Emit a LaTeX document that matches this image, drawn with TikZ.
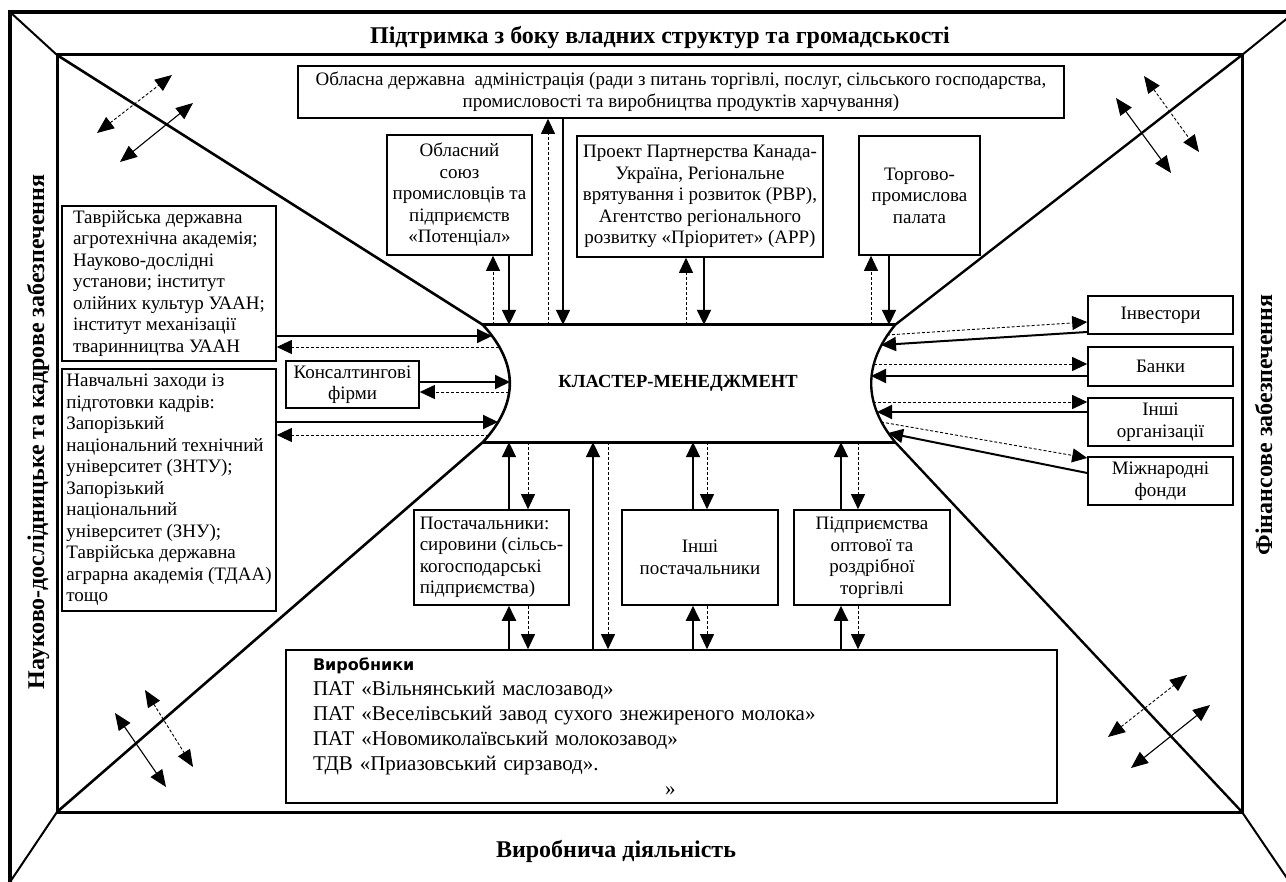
\documentclass[tikz,border=0pt]{standalone}
\usepackage{fontspec}
\setmainfont{Liberation Serif}
\newfontfamily\headfont{DejaVu Sans}
\usepackage{tikz}
\usetikzlibrary{arrows.meta}

\tikzset{
  box/.style={draw, line width=1.6pt, inner sep=3pt, font=\fontsize{19}{21.5}\selectfont},
  sidelabel/.style={font=\fontsize{24}{28}\selectfont\bfseries, inner sep=0pt, anchor=base},
  solidarr/.style={line width=2pt, -{Triangle[length=15pt,width=14pt]}},
  dasharr/.style={line width=0.9pt, dash pattern=on 3pt off 2pt, -{Triangle[length=15pt,width=14pt]}},
  cornarr/.style={line width=1.1pt, {Triangle[length=17pt,width=14pt]}-{Triangle[length=17pt,width=14pt]}},
  corndash/.style={cornarr, line width=0.9pt, dash pattern=on 3pt off 2pt}
}

\begin{document}
\begin{tikzpicture}[x=1pt,y=-1pt]
\useasboundingbox (0,0) rectangle (1286,882);

\coordinate (oTL) at (10,12);
\coordinate (oTR) at (1295,12);
\coordinate (oBL) at (10,882);
\coordinate (oBR) at (1295,890);
\coordinate (iTL) at (57,55);
\coordinate (iTR) at (1242,55);
\coordinate (iBL) at (57,812);
\coordinate (iBR) at (1242,812);

\draw [line width=3.5pt] (oBL) -- (oTL) -- (oTR) -- (oBR);
\draw [line width=3pt] (iTL) rectangle (iBR);
\draw [line width=2pt] (oTL) -- (iTL);
\draw [line width=2pt] (oTR) -- (iTR);
\draw [line width=2pt] (oBL) -- (iBL);
\draw [line width=2pt] (oBR) -- (iBR);

\node [sidelabel] (support) at (660,44) {Підтримка з боку владних структур та громадськості};
\node [sidelabel] (production) at (616,857) {Виробнича діяльність};
\node [sidelabel, rotate=90] (science) at (44,432) {Науково-дослідницьке та кадрове забезпечення};
\node [sidelabel, rotate=90] (finance) at (1272,425) {Фінансове забезпечення};

\node [font=\fontsize{18.5}{22}\selectfont\bfseries, minimum width=412, minimum height=117, inner sep=0pt] (cluster) at (689,383.5) {\hspace*{-22pt}КЛАСТЕР-МЕНЕДЖМЕНТ};
\draw [line width=3pt] (cluster.north west) -- (cluster.north east);
\draw [line width=3pt] (cluster.south west) -- (cluster.south east);
\draw [line width=2.6pt] (iTL) -- (cluster.north west) .. controls +(36,39) and +(36,-39) .. (cluster.south west) -- (iBL);
\draw [line width=2.4pt] (iTR) -- (cluster.north east) .. controls +(-32,39) and +(-32,-39) .. (cluster.south east) -- (iBR);

\node [box, minimum width=766, minimum height=52, align=center] (oda) at (681,92) {Обласна державна~ адміністрація (ради з питань торгівлі, послуг, сільського господарства,\\промисловості та виробництва продуктів харчування)};
\node [box, minimum width=145, minimum height=120, align=center] (soyuz) at (459.5,195) {Обласний\\союз\\промисловців та\\підприємств\\«Потенціал»};
\node [box, minimum width=246, minimum height=121, align=center] (proekt) at (700,196.5) {Проект Партнерства Канада-\\Україна, Регіональне\\врятування і розвиток (РВР),\\Агентство регіонального\\розвитку «Пріоритет» (АРР)};
\node [box, minimum width=121, minimum height=119, align=center] (palata) at (919.5,195.5) {Торгово-\\промислова\\палата};

\node [box, minimum width=214, minimum height=155, align=left] (tavr) at (169,283.5) {Таврійська державна\\агротехнічна академія;\\Науково-дослідні\\установи; інститут\\олійних культур УААН;\\інститут механізації\\тваринництва УААН};
\node [box, minimum width=214, minimum height=242, align=left] (navch) at (169,490) {Навчальні заходи із\\підготовки кадрів:\\Запорізький\\національний технічний\\університет (ЗНТУ);\\Запорізький\\національний\\університет (ЗНУ);\\Таврійська державна\\аграрна академія (ТДАА)\\тощо};
\node [box, minimum width=133, minimum height=47, align=center] (kons) at (352.5,384.5) {Консалтингові\\фірми};

\node [box, minimum width=145, minimum height=38] (invest) at (1160.5,315) {Інвестори};
\node [box, minimum width=145, minimum height=39] (banky) at (1160.5,366.5) {Банки};
\node [box, minimum width=145, minimum height=48, align=center] (inshi) at (1160.5,422) {Інші\\організації};
\node [box, minimum width=145, minimum height=48, align=center] (fondy) at (1160.5,481) {Міжнародні\\фонди};

\node [box, minimum width=155, minimum height=95, align=left] (postach) at (491.5,557.5) {Постачальники:\\сировини (сільсь-\\когосподарські\\підприємства)};
\node [box, minimum width=156, minimum height=95, align=center] (inshipost) at (700,557.5) {Інші\\постачальники};
\node [box, minimum width=156, minimum height=95, align=center] (torg) at (872,557.5) {Підприємства\\оптової та\\роздрібної\\торгівлі};

\node [box, minimum width=771, minimum height=153, text width=717, align=left, font=\fontsize{21}{25}\selectfont] (vyrob) at (671.5,726.5) {{\headfont\bfseries\fontsize{16}{25}\selectfont Виробники}\\ПАТ «Вільнянський маслозавод»\\ПАТ «Веселівський завод сухого знежиреного молока»\\ПАТ «Новомиколаївський молокозавод»\\ТДВ «Приазовський сирзавод».\\\hspace*{352pt}»};

\draw [dasharr] (cluster.north -| 493,0) -- (soyuz.south -| 493,0);
\draw [solidarr] (soyuz.south -| 509,0) -- (cluster.north -| 509,0);
\draw [dasharr] (cluster.north -| 548,0) -- (oda.south -| 548,0);
\draw [solidarr] (oda.south -| 563,0) -- (cluster.north -| 563,0);
\draw [dasharr] (cluster.north -| 686,0) -- (proekt.south -| 686,0);
\draw [solidarr] (proekt.south -| 704,0) -- (cluster.north -| 704,0);
\draw [dasharr] (cluster.north -| 871,0) -- (palata.south -| 871,0);
\draw [solidarr] (palata.south -| 889,0) -- (cluster.north -| 889,0);

\coordinate (cl1) at (492,336);
\coordinate (cl2) at (499,347);
\coordinate (cl3) at (510,382);
\coordinate (cl4) at (509,392);
\coordinate (cl5) at (498,422);
\coordinate (cl6) at (489,435);
\draw [solidarr] (tavr.east |- cl1) -- (cl1);
\draw [dasharr] (cl2) -- (tavr.east |- cl2);
\draw [solidarr] (kons.east |- cl3) -- (cl3);
\draw [dasharr] (cl4) -- (kons.east |- cl4);
\draw [solidarr] (navch.east |- cl5) -- (cl5);
\draw [dasharr] (cl6) -- (navch.east |- cl6);

\coordinate (cr1) at (887,335);
\coordinate (cr2) at (881,345);
\coordinate (cr3) at (874,364);
\coordinate (cr4) at (871,376);
\coordinate (cr5) at (873,402);
\coordinate (cr6) at (877,412);
\coordinate (cr7) at (881,422);
\coordinate (cr8) at (888,433);
\draw [dasharr] (cr1) -- (invest.west |- 0,322);
\draw [solidarr] (invest.west |- 0,332) -- (cr2);
\draw [dasharr] (cr3) -- (banky.west |- cr3);
\draw [solidarr] (banky.west |- cr4) -- (cr4);
\draw [dasharr] (cr5) -- (inshi.west |- cr5);
\draw [solidarr] (inshi.west |- cr6) -- (cr6);
\draw [dasharr] (cr7) -- (fondy.west |- 0,458);
\draw [solidarr] (fondy.west |- 0,473) -- (cr8);

\draw [solidarr] (postach.north -| 509,0) -- (cluster.south -| 509,0);
\draw [dasharr] (cluster.south -| 528,0) -- (postach.north -| 528,0);
\draw [solidarr] (vyrob.north -| 593,0) -- (cluster.south -| 593,0);
\draw [dasharr] (cluster.south -| 608,0) -- (vyrob.north -| 608,0);
\draw [solidarr] (inshipost.north -| 693,0) -- (cluster.south -| 693,0);
\draw [dasharr] (cluster.south -| 707,0) -- (inshipost.north -| 707,0);
\draw [solidarr] (torg.north -| 841,0) -- (cluster.south -| 841,0);
\draw [dasharr] (cluster.south -| 858,0) -- (torg.north -| 858,0);

\draw [solidarr] (vyrob.north -| 509,0) -- (postach.south -| 509,0);
\draw [dasharr] (postach.south -| 528,0) -- (vyrob.north -| 528,0);
\draw [solidarr] (vyrob.north -| 693,0) -- (inshipost.south -| 693,0);
\draw [dasharr] (inshipost.south -| 707,0) -- (vyrob.north -| 707,0);
\draw [solidarr] (vyrob.north -| 841,0) -- (torg.south -| 841,0);
\draw [dasharr] (torg.south -| 858,0) -- (vyrob.north -| 858,0);

\draw [corndash] (97,133) -- (172,75);
\draw [cornarr] (120,162) -- (193,103);
\draw [cornarr] (1116,98) -- (1171,173);
\draw [corndash] (1144,76) -- (1199,152);
\draw [cornarr] (115,713) -- (166,787);
\draw [corndash] (145,690) -- (193,767);
\draw [corndash] (1108,737) -- (1187,675);
\draw [cornarr] (1131,768) -- (1210,705);
\end{tikzpicture}
\end{document}
